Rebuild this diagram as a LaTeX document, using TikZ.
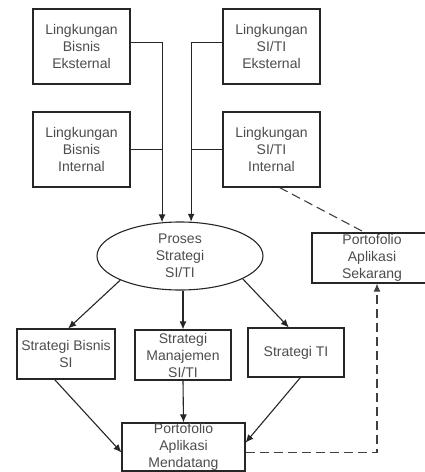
\documentclass[tikz,border=0pt]{standalone}
\usepackage{fontspec}
\setmainfont{Liberation Sans}
\usetikzlibrary{arrows.meta,shapes.geometric}

\tikzset{
    kotak/.style={draw=black!85, line width=1.1pt, inner sep=0pt, align=center,
        text=black!70, font=\fontsize{14}{17}\selectfont},
    elips/.style={kotak, ellipse},
    panah/.style={line width=1.1pt, draw=black!85, -{Latex[length=8pt,width=7pt]}},
    garis/.style={line width=1.1pt, draw=black!85},
    putus/.style={line width=1.1pt, draw=black!75, dash pattern=on 9pt off 5pt}
}

\begin{document}
\begin{tikzpicture}[x=1pt,y=-1pt]
        \useasboundingbox (0,0) rectangle (425,472);

        % Lingkungan (baris atas dan tengah)
        \node[kotak, minimum width=97pt, minimum height=75pt](lbe) at (81.5,46.5) {Lingkungan\\Bisnis\\Eksternal};
        \node[kotak, minimum width=97pt, minimum height=75pt](lse) at (271.5,46.5) {Lingkungan\\SI/TI\\Eksternal};
        \node[kotak, minimum width=97pt, minimum height=75pt](lbi) at (81.5,149.5) {Lingkungan\\Bisnis\\Internal};
        \node[kotak, minimum width=97pt, minimum height=75pt](lsi) at (271.5,149.5) {Lingkungan\\SI/TI\\Internal};

        % Proses strategi
        \node[elips, minimum width=166pt, minimum height=68pt,
            label={[kotak, draw=none]center:{Proses\\Strategi\\SI/TI}}](proses) at (180,256) {};

        % Portofolio sekarang
        \node[kotak, minimum width=120pt, minimum height=50pt](ps) at (372,258) {Portofolio\\Aplikasi\\Sekarang};

        % Strategi (baris bawah)
        \node[kotak, minimum width=98pt, minimum height=50pt](sbs) at (66,354) {Strategi Bisnis\\SI};
        \node[kotak, minimum width=96pt, minimum height=50pt](sm) at (183,355) {Strategi\\Manajemen\\SI/TI};
        \node[kotak, minimum width=96pt, minimum height=49pt](sti) at (296,352.5) {Strategi TI};

        % Portofolio mendatang
        \node[kotak, minimum width=123pt, minimum height=48pt](pam) at (183.5,447) {Portofolio\\Aplikasi\\Mendatang};

        % Lingkungan ke proses strategi
        \draw[panah] (lbe.5) -| (proses.118);
        \draw[garis] (lbi.east) -- (lbi.east -| proses.118);
        \draw[panah] (lse.175) -| (proses.72);
        \draw[garis] (lsi.west) -- (lsi.west -| proses.72);

        % Proses strategi ke strategi
        \draw[panah] (proses.202) -- (sbs.85);
        \draw[panah] (proses.south -| sm.north) -- (sm.north);
        \draw[panah] (proses.340) -- (sti.106);

        % Strategi ke portofolio mendatang
        \draw[panah] (sbs.246) -- (pam.185);
        \draw[panah] (sm.south) -- (pam.north);
        \draw[panah] (sti.280) -- (pam.4);

        % Hubungan putus-putus
        \draw[putus] (lsi.282) -- (ps.106);
        \draw[putus, -{Latex[length=8pt,width=7pt]}] (pam.355) -| ([xshift=5pt]ps.south);
    \end{tikzpicture}
\end{document}
